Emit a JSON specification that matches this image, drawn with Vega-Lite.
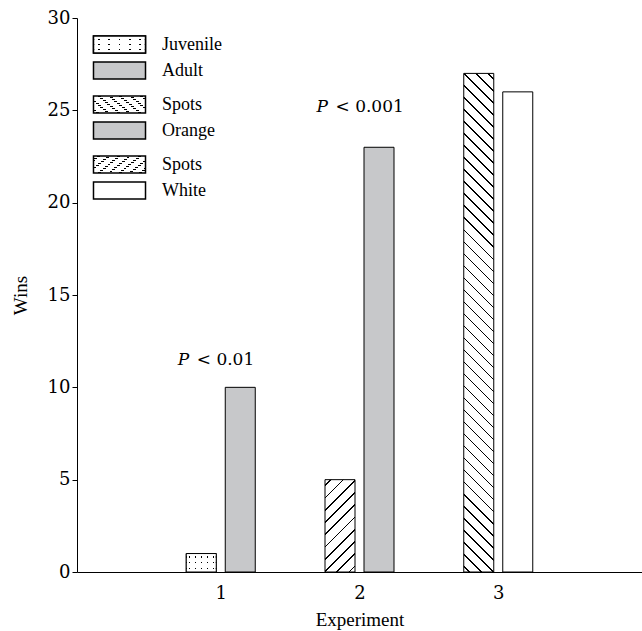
{
  "$schema": "https://vega.github.io/schema/vega-lite/v6.json",
  "width": 565,
  "height": 554,
  "autosize": {"type": "none"},
  "padding": {"left": 77, "top": 18, "right": 0, "bottom": 59},
  "background": "white",
  "config": {
    "view": {"stroke": null},
    "font": "Liberation Serif",
    "axis": {"labelFont": "DejaVu Serif", "labelFontSize": 18, "labelColor": "black", "titleFont": "Liberation Serif", "titleFontSize": 19, "titleFontWeight": "normal", "titleColor": "black", "domainColor": "black", "domainWidth": 1, "tickColor": "black", "grid": false},
    "legend": {"orient": "none", "direction": "vertical", "symbolType": "M-3.06,-1H3.06V1H-3.06Z", "symbolSize": 289, "labelFont": "Liberation Serif", "labelFontSize": 18, "labelColor": "black", "labelOffset": 33, "rowPadding": 4, "padding": 0}
  },
  "data": {"values": [
    {"experiment": 1, "group": "Juvenile", "wins": 1},
    {"experiment": 1, "group": "Adult", "wins": 10},
    {"experiment": 2, "group": "Spots", "wins": 5},
    {"experiment": 2, "group": "Orange", "wins": 23},
    {"experiment": 3, "group": "Spots", "wins": 27},
    {"experiment": 3, "group": "White", "wins": 26}
  ]},
  "encoding": {
    "x": {"field": "experiment", "type": "quantitative", "scale": {"domain": [0, 4], "nice": false, "zero": false}, "axis": {"values": [1, 2, 3], "format": "d", "ticks": false, "tickSize": 0, "labelPadding": 12, "title": "Experiment", "titlePadding": 8}},
    "y": {"field": "wins", "type": "quantitative", "scale": {"domain": [0, 30], "nice": false}, "axis": {"values": [0, 5, 10, 15, 20, 25, 30], "tickSize": 5, "labelPadding": 2, "title": "Wins", "titlePadding": 17}}
  },
  "resolve": {"scale": {"opacity": "independent"}, "legend": {"opacity": "independent"}},
  "layer": [
    {
      "transform": [{"filter": "datum.experiment == 1 && datum.group == 'Juvenile'"}],
      "mark": {"type": "bar", "orient": "vertical", "width": 30, "xOffset": -19.5, "stroke": "black", "strokeWidth": 1,
        "fill": {"gradient": "linear", "x1": 0, "y1": 0, "x2": 1, "y2": 0, "stops": [
          {"offset": 0, "color": "#fff"},
          {"offset": 0.083, "color": "#fff"}, {"offset": 0.083, "color": "#000"}, {"offset": 0.117, "color": "#000"}, {"offset": 0.117, "color": "#fff"},
          {"offset": 0.283, "color": "#fff"}, {"offset": 0.283, "color": "#000"}, {"offset": 0.317, "color": "#000"}, {"offset": 0.317, "color": "#fff"},
          {"offset": 0.483, "color": "#fff"}, {"offset": 0.483, "color": "#000"}, {"offset": 0.517, "color": "#000"}, {"offset": 0.517, "color": "#fff"},
          {"offset": 0.683, "color": "#fff"}, {"offset": 0.683, "color": "#000"}, {"offset": 0.717, "color": "#000"}, {"offset": 0.717, "color": "#fff"},
          {"offset": 0.883, "color": "#fff"}, {"offset": 0.883, "color": "#000"}, {"offset": 0.917, "color": "#000"}, {"offset": 0.917, "color": "#fff"},
          {"offset": 1, "color": "#fff"}
        ]}
      },
      "encoding": {
        "opacity": {"field": "group", "type": "nominal",
          "scale": {"domain": ["Juvenile"], "range": [1]},
          "legend": {"title": null, "legendX": 33, "legendY": 17,
            "encode": {"symbols": {
              "fill": {"value": {"gradient": "linear", "x1": 0, "y1": 0, "x2": 1, "y2": 0, "stops": [
                {"offset": 0, "color": "#fff"},
                {"offset": 0.083, "color": "#fff"}, {"offset": 0.083, "color": "#000"}, {"offset": 0.107, "color": "#000"}, {"offset": 0.107, "color": "#fff"},
                {"offset": 0.283, "color": "#fff"}, {"offset": 0.283, "color": "#000"}, {"offset": 0.307, "color": "#000"}, {"offset": 0.307, "color": "#fff"},
                {"offset": 0.483, "color": "#fff"}, {"offset": 0.483, "color": "#000"}, {"offset": 0.507, "color": "#000"}, {"offset": 0.507, "color": "#fff"},
                {"offset": 0.683, "color": "#fff"}, {"offset": 0.683, "color": "#000"}, {"offset": 0.707, "color": "#000"}, {"offset": 0.707, "color": "#fff"},
                {"offset": 0.883, "color": "#fff"}, {"offset": 0.883, "color": "#000"}, {"offset": 0.907, "color": "#000"}, {"offset": 0.907, "color": "#fff"},
                {"offset": 1, "color": "#fff"}
              ]}},
              "stroke": {"value": "black"},
              "strokeWidth": {"value": 1}
            }}
          }
        }
      }
    },
    {
      "transform": [{"filter": "datum.experiment == 1 && datum.group == 'Adult'"}],
      "mark": {"type": "bar", "orient": "vertical", "width": 30, "xOffset": 19.5, "stroke": "black", "strokeWidth": 1, "fill": "#c7c8ca"},
      "encoding": {
        "opacity": {"field": "group", "type": "nominal",
          "scale": {"domain": ["Adult"], "range": [1]},
          "legend": {"title": null, "legendX": 33, "legendY": 43,
            "encode": {"symbols": {"fill": {"value": "#c7c8ca"}, "stroke": {"value": "black"}, "strokeWidth": {"value": 1}}}
          }
        }
      }
    },
    {
      "transform": [{"filter": "datum.experiment == 2 && datum.group == 'Spots'"}],
      "mark": {"type": "bar", "orient": "vertical", "width": 30, "xOffset": -19.5, "stroke": "black", "strokeWidth": 1,
        "fill": {"gradient": "linear", "x1": 0, "y1": 0, "x2": 0.3894, "y2": 1.1984, "stops": [
          {"offset": 0, "color": "#fff"},
          {"offset": 0.043, "color": "#fff"}, {"offset": 0.043, "color": "#000"}, {"offset": 0.057, "color": "#000"}, {"offset": 0.057, "color": "#fff"},
          {"offset": 0.143, "color": "#fff"}, {"offset": 0.143, "color": "#000"}, {"offset": 0.157, "color": "#000"}, {"offset": 0.157, "color": "#fff"},
          {"offset": 0.243, "color": "#fff"}, {"offset": 0.243, "color": "#000"}, {"offset": 0.257, "color": "#000"}, {"offset": 0.257, "color": "#fff"},
          {"offset": 0.343, "color": "#fff"}, {"offset": 0.343, "color": "#000"}, {"offset": 0.357, "color": "#000"}, {"offset": 0.357, "color": "#fff"},
          {"offset": 0.443, "color": "#fff"}, {"offset": 0.443, "color": "#000"}, {"offset": 0.457, "color": "#000"}, {"offset": 0.457, "color": "#fff"},
          {"offset": 0.543, "color": "#fff"}, {"offset": 0.543, "color": "#000"}, {"offset": 0.557, "color": "#000"}, {"offset": 0.557, "color": "#fff"},
          {"offset": 0.643, "color": "#fff"}, {"offset": 0.643, "color": "#000"}, {"offset": 0.657, "color": "#000"}, {"offset": 0.657, "color": "#fff"},
          {"offset": 0.743, "color": "#fff"}, {"offset": 0.743, "color": "#000"}, {"offset": 0.757, "color": "#000"}, {"offset": 0.757, "color": "#fff"},
          {"offset": 0.843, "color": "#fff"}, {"offset": 0.843, "color": "#000"}, {"offset": 0.857, "color": "#000"}, {"offset": 0.857, "color": "#fff"},
          {"offset": 0.943, "color": "#fff"}, {"offset": 0.943, "color": "#000"}, {"offset": 0.957, "color": "#000"}, {"offset": 0.957, "color": "#fff"},
          {"offset": 1, "color": "#fff"}
        ]}
      },
      "encoding": {
        "opacity": {"field": "group", "type": "nominal",
          "scale": {"domain": ["Spots"], "range": [1]},
          "legend": {"title": null, "legendX": 33, "legendY": 77,
            "encode": {"symbols": {
              "fill": {"value": {"gradient": "linear", "x1": 0, "y1": 1, "x2": 1.1988, "y2": 0.6081, "stops": [
                {"offset": 0, "color": "#fff"},
                {"offset": 0.071, "color": "#fff"}, {"offset": 0.071, "color": "#000"}, {"offset": 0.0956, "color": "#000"}, {"offset": 0.0956, "color": "#fff"},
                {"offset": 0.2377, "color": "#fff"}, {"offset": 0.2377, "color": "#000"}, {"offset": 0.2623, "color": "#000"}, {"offset": 0.2623, "color": "#fff"},
                {"offset": 0.4044, "color": "#fff"}, {"offset": 0.4044, "color": "#000"}, {"offset": 0.429, "color": "#000"}, {"offset": 0.429, "color": "#fff"},
                {"offset": 0.571, "color": "#fff"}, {"offset": 0.571, "color": "#000"}, {"offset": 0.5956, "color": "#000"}, {"offset": 0.5956, "color": "#fff"},
                {"offset": 0.7377, "color": "#fff"}, {"offset": 0.7377, "color": "#000"}, {"offset": 0.7623, "color": "#000"}, {"offset": 0.7623, "color": "#fff"},
                {"offset": 0.9044, "color": "#fff"}, {"offset": 0.9044, "color": "#000"}, {"offset": 0.929, "color": "#000"}, {"offset": 0.929, "color": "#fff"},
                {"offset": 1, "color": "#fff"}
              ]}},
              "stroke": {"value": "black"},
              "strokeWidth": {"value": 1}
            }}
          }
        }
      }
    },
    {
      "transform": [{"filter": "datum.experiment == 2 && datum.group == 'Orange'"}],
      "mark": {"type": "bar", "orient": "vertical", "width": 30, "xOffset": 19.5, "stroke": "black", "strokeWidth": 1, "fill": "#c7c8ca"},
      "encoding": {
        "opacity": {"field": "group", "type": "nominal",
          "scale": {"domain": ["Orange"], "range": [1]},
          "legend": {"title": null, "legendX": 33, "legendY": 103,
            "encode": {"symbols": {"fill": {"value": "#c7c8ca"}, "stroke": {"value": "black"}, "strokeWidth": {"value": 1}}}
          }
        }
      }
    },
    {
      "transform": [{"filter": "datum.experiment == 3 && datum.group == 'Spots'"}],
      "mark": {"type": "bar", "orient": "vertical", "width": 30, "xOffset": -19.5, "stroke": "black", "strokeWidth": 1,
        "fill": {"gradient": "linear", "x1": 0, "y1": 1, "x2": 0.06356, "y2": -0.0563, "stops": [
          {"offset": 0, "color": "#fff"},
          {"offset": 0.0098, "color": "#fff"}, {"offset": 0.0098, "color": "#000"}, {"offset": 0.0130, "color": "#000"}, {"offset": 0.0130, "color": "#fff"},
          {"offset": 0.0325, "color": "#fff"}, {"offset": 0.0325, "color": "#000"}, {"offset": 0.0357, "color": "#000"}, {"offset": 0.0357, "color": "#fff"},
          {"offset": 0.0552, "color": "#fff"}, {"offset": 0.0552, "color": "#000"}, {"offset": 0.0584, "color": "#000"}, {"offset": 0.0584, "color": "#fff"},
          {"offset": 0.0779, "color": "#fff"}, {"offset": 0.0779, "color": "#000"}, {"offset": 0.0811, "color": "#000"}, {"offset": 0.0811, "color": "#fff"},
          {"offset": 0.1007, "color": "#fff"}, {"offset": 0.1007, "color": "#000"}, {"offset": 0.1039, "color": "#000"}, {"offset": 0.1039, "color": "#fff"},
          {"offset": 0.1234, "color": "#fff"}, {"offset": 0.1234, "color": "#000"}, {"offset": 0.1266, "color": "#000"}, {"offset": 0.1266, "color": "#fff"},
          {"offset": 0.1461, "color": "#fff"}, {"offset": 0.1461, "color": "#000"}, {"offset": 0.1493, "color": "#000"}, {"offset": 0.1493, "color": "#fff"},
          {"offset": 0.1689, "color": "#fff"}, {"offset": 0.1689, "color": "#000"}, {"offset": 0.1721, "color": "#000"}, {"offset": 0.1721, "color": "#fff"},
          {"offset": 0.1916, "color": "#fff"}, {"offset": 0.1916, "color": "#000"}, {"offset": 0.1948, "color": "#000"}, {"offset": 0.1948, "color": "#fff"},
          {"offset": 0.2143, "color": "#fff"}, {"offset": 0.2143, "color": "#000"}, {"offset": 0.2175, "color": "#000"}, {"offset": 0.2175, "color": "#fff"},
          {"offset": 0.2370, "color": "#fff"}, {"offset": 0.2370, "color": "#000"}, {"offset": 0.2402, "color": "#000"}, {"offset": 0.2402, "color": "#fff"},
          {"offset": 0.2598, "color": "#fff"}, {"offset": 0.2598, "color": "#000"}, {"offset": 0.2630, "color": "#000"}, {"offset": 0.2630, "color": "#fff"},
          {"offset": 0.2825, "color": "#fff"}, {"offset": 0.2825, "color": "#000"}, {"offset": 0.2857, "color": "#000"}, {"offset": 0.2857, "color": "#fff"},
          {"offset": 0.3052, "color": "#fff"}, {"offset": 0.3052, "color": "#000"}, {"offset": 0.3084, "color": "#000"}, {"offset": 0.3084, "color": "#fff"},
          {"offset": 0.3279, "color": "#fff"}, {"offset": 0.3279, "color": "#000"}, {"offset": 0.3311, "color": "#000"}, {"offset": 0.3311, "color": "#fff"},
          {"offset": 0.3507, "color": "#fff"}, {"offset": 0.3507, "color": "#000"}, {"offset": 0.3539, "color": "#000"}, {"offset": 0.3539, "color": "#fff"},
          {"offset": 0.3734, "color": "#fff"}, {"offset": 0.3734, "color": "#000"}, {"offset": 0.3766, "color": "#000"}, {"offset": 0.3766, "color": "#fff"},
          {"offset": 0.3961, "color": "#fff"}, {"offset": 0.3961, "color": "#000"}, {"offset": 0.3993, "color": "#000"}, {"offset": 0.3993, "color": "#fff"},
          {"offset": 0.4189, "color": "#fff"}, {"offset": 0.4189, "color": "#000"}, {"offset": 0.4221, "color": "#000"}, {"offset": 0.4221, "color": "#fff"},
          {"offset": 0.4416, "color": "#fff"}, {"offset": 0.4416, "color": "#000"}, {"offset": 0.4448, "color": "#000"}, {"offset": 0.4448, "color": "#fff"},
          {"offset": 0.4643, "color": "#fff"}, {"offset": 0.4643, "color": "#000"}, {"offset": 0.4675, "color": "#000"}, {"offset": 0.4675, "color": "#fff"},
          {"offset": 0.4870, "color": "#fff"}, {"offset": 0.4870, "color": "#000"}, {"offset": 0.4902, "color": "#000"}, {"offset": 0.4902, "color": "#fff"},
          {"offset": 0.5098, "color": "#fff"}, {"offset": 0.5098, "color": "#000"}, {"offset": 0.5130, "color": "#000"}, {"offset": 0.5130, "color": "#fff"},
          {"offset": 0.5325, "color": "#fff"}, {"offset": 0.5325, "color": "#000"}, {"offset": 0.5357, "color": "#000"}, {"offset": 0.5357, "color": "#fff"},
          {"offset": 0.5552, "color": "#fff"}, {"offset": 0.5552, "color": "#000"}, {"offset": 0.5584, "color": "#000"}, {"offset": 0.5584, "color": "#fff"},
          {"offset": 0.5779, "color": "#fff"}, {"offset": 0.5779, "color": "#000"}, {"offset": 0.5811, "color": "#000"}, {"offset": 0.5811, "color": "#fff"},
          {"offset": 0.6007, "color": "#fff"}, {"offset": 0.6007, "color": "#000"}, {"offset": 0.6039, "color": "#000"}, {"offset": 0.6039, "color": "#fff"},
          {"offset": 0.6234, "color": "#fff"}, {"offset": 0.6234, "color": "#000"}, {"offset": 0.6266, "color": "#000"}, {"offset": 0.6266, "color": "#fff"},
          {"offset": 0.6461, "color": "#fff"}, {"offset": 0.6461, "color": "#000"}, {"offset": 0.6493, "color": "#000"}, {"offset": 0.6493, "color": "#fff"},
          {"offset": 0.6689, "color": "#fff"}, {"offset": 0.6689, "color": "#000"}, {"offset": 0.6721, "color": "#000"}, {"offset": 0.6721, "color": "#fff"},
          {"offset": 0.6916, "color": "#fff"}, {"offset": 0.6916, "color": "#000"}, {"offset": 0.6948, "color": "#000"}, {"offset": 0.6948, "color": "#fff"},
          {"offset": 0.7143, "color": "#fff"}, {"offset": 0.7143, "color": "#000"}, {"offset": 0.7175, "color": "#000"}, {"offset": 0.7175, "color": "#fff"},
          {"offset": 0.7370, "color": "#fff"}, {"offset": 0.7370, "color": "#000"}, {"offset": 0.7402, "color": "#000"}, {"offset": 0.7402, "color": "#fff"},
          {"offset": 0.7598, "color": "#fff"}, {"offset": 0.7598, "color": "#000"}, {"offset": 0.7630, "color": "#000"}, {"offset": 0.7630, "color": "#fff"},
          {"offset": 0.7825, "color": "#fff"}, {"offset": 0.7825, "color": "#000"}, {"offset": 0.7857, "color": "#000"}, {"offset": 0.7857, "color": "#fff"},
          {"offset": 0.8052, "color": "#fff"}, {"offset": 0.8052, "color": "#000"}, {"offset": 0.8084, "color": "#000"}, {"offset": 0.8084, "color": "#fff"},
          {"offset": 0.8279, "color": "#fff"}, {"offset": 0.8279, "color": "#000"}, {"offset": 0.8311, "color": "#000"}, {"offset": 0.8311, "color": "#fff"},
          {"offset": 0.8507, "color": "#fff"}, {"offset": 0.8507, "color": "#000"}, {"offset": 0.8539, "color": "#000"}, {"offset": 0.8539, "color": "#fff"},
          {"offset": 0.8734, "color": "#fff"}, {"offset": 0.8734, "color": "#000"}, {"offset": 0.8766, "color": "#000"}, {"offset": 0.8766, "color": "#fff"},
          {"offset": 0.8961, "color": "#fff"}, {"offset": 0.8961, "color": "#000"}, {"offset": 0.8993, "color": "#000"}, {"offset": 0.8993, "color": "#fff"},
          {"offset": 0.9189, "color": "#fff"}, {"offset": 0.9189, "color": "#000"}, {"offset": 0.9221, "color": "#000"}, {"offset": 0.9221, "color": "#fff"},
          {"offset": 0.9416, "color": "#fff"}, {"offset": 0.9416, "color": "#000"}, {"offset": 0.9448, "color": "#000"}, {"offset": 0.9448, "color": "#fff"},
          {"offset": 0.9643, "color": "#fff"}, {"offset": 0.9643, "color": "#000"}, {"offset": 0.9675, "color": "#000"}, {"offset": 0.9675, "color": "#fff"},
          {"offset": 0.9870, "color": "#fff"}, {"offset": 0.9870, "color": "#000"}, {"offset": 0.9902, "color": "#000"}, {"offset": 0.9902, "color": "#fff"},
          {"offset": 1, "color": "#fff"}
        ]}
      },
      "encoding": {
        "opacity": {"field": "group", "type": "nominal",
          "scale": {"domain": ["Spots"], "range": [1]},
          "legend": {"title": null, "legendX": 33, "legendY": 137,
            "encode": {"symbols": {
              "fill": {"value": {"gradient": "linear", "x1": 0, "y1": 0, "x2": 1.1988, "y2": 0.3919, "stops": [
                {"offset": 0, "color": "#fff"},
                {"offset": 0.071, "color": "#fff"}, {"offset": 0.071, "color": "#000"}, {"offset": 0.0956, "color": "#000"}, {"offset": 0.0956, "color": "#fff"},
                {"offset": 0.2377, "color": "#fff"}, {"offset": 0.2377, "color": "#000"}, {"offset": 0.2623, "color": "#000"}, {"offset": 0.2623, "color": "#fff"},
                {"offset": 0.4044, "color": "#fff"}, {"offset": 0.4044, "color": "#000"}, {"offset": 0.429, "color": "#000"}, {"offset": 0.429, "color": "#fff"},
                {"offset": 0.571, "color": "#fff"}, {"offset": 0.571, "color": "#000"}, {"offset": 0.5956, "color": "#000"}, {"offset": 0.5956, "color": "#fff"},
                {"offset": 0.7377, "color": "#fff"}, {"offset": 0.7377, "color": "#000"}, {"offset": 0.7623, "color": "#000"}, {"offset": 0.7623, "color": "#fff"},
                {"offset": 0.9044, "color": "#fff"}, {"offset": 0.9044, "color": "#000"}, {"offset": 0.929, "color": "#000"}, {"offset": 0.929, "color": "#fff"},
                {"offset": 1, "color": "#fff"}
              ]}},
              "stroke": {"value": "black"},
              "strokeWidth": {"value": 1}
            }}
          }
        }
      }
    },
    {
      "transform": [{"filter": "datum.experiment == 3 && datum.group == 'White'"}],
      "mark": {"type": "bar", "orient": "vertical", "width": 30, "xOffset": 19.5, "stroke": "black", "strokeWidth": 1, "fill": "#ffffff"},
      "encoding": {
        "opacity": {"field": "group", "type": "nominal",
          "scale": {"domain": ["White"], "range": [1]},
          "legend": {"title": null, "legendX": 33, "legendY": 163,
            "encode": {"symbols": {"fill": {"value": "#ffffff"}, "stroke": {"value": "black"}, "strokeWidth": {"value": 1}}}
          }
        }
      }
    },
    {
      "transform": [{"filter": "datum.experiment == 1 && datum.group == 'Juvenile'"}],
      "mark": {"type": "bar", "orient": "vertical", "width": 30, "xOffset": -19.5, "stroke": "black", "strokeWidth": 1,
        "fill": {"gradient": "linear", "x1": 0, "y1": 0, "x2": 0, "y2": 1, "stops": [
          {"offset": 0, "color": "#fff"},
          {"offset": 0.16, "color": "#fff"}, {"offset": 0.16, "color": "rgba(255,255,255,0)"}, {"offset": 0.22, "color": "rgba(255,255,255,0)"}, {"offset": 0.22, "color": "#fff"},
          {"offset": 0.47, "color": "#fff"}, {"offset": 0.47, "color": "rgba(255,255,255,0)"}, {"offset": 0.53, "color": "rgba(255,255,255,0)"}, {"offset": 0.53, "color": "#fff"},
          {"offset": 0.78, "color": "#fff"}, {"offset": 0.78, "color": "rgba(255,255,255,0)"}, {"offset": 0.84, "color": "rgba(255,255,255,0)"}, {"offset": 0.84, "color": "#fff"},
          {"offset": 1, "color": "#fff"}
        ]}
      },
      "encoding": {
        "opacity": {"field": "group", "type": "nominal",
          "scale": {"domain": ["Juvenile"], "range": [1]},
          "legend": {"title": null, "legendX": 33, "legendY": 17, "labelOpacity": 0,
            "encode": {"symbols": {
              "fill": {"value": {"gradient": "linear", "x1": 0, "y1": 0, "x2": 0, "y2": 1, "stops": [
                {"offset": 0, "color": "#fff"},
                {"offset": 0.16, "color": "#fff"}, {"offset": 0.16, "color": "rgba(255,255,255,0)"}, {"offset": 0.22, "color": "rgba(255,255,255,0)"}, {"offset": 0.22, "color": "#fff"},
                {"offset": 0.47, "color": "#fff"}, {"offset": 0.47, "color": "rgba(255,255,255,0)"}, {"offset": 0.53, "color": "rgba(255,255,255,0)"}, {"offset": 0.53, "color": "#fff"},
                {"offset": 0.78, "color": "#fff"}, {"offset": 0.78, "color": "rgba(255,255,255,0)"}, {"offset": 0.84, "color": "rgba(255,255,255,0)"}, {"offset": 0.84, "color": "#fff"},
                {"offset": 1, "color": "#fff"}
              ]}},
              "stroke": {"value": "black"},
              "strokeWidth": {"value": 1}
            }}
          }
        }
      }
    },
    {
      "data": {"values": [{}]},
      "mark": {"type": "rule", "color": "black", "strokeWidth": 1},
      "encoding": {"y": {"datum": 30}, "x": {"datum": 0}, "x2": {"datum": 4}}
    },
    {
      "data": {"values": [
        {"experiment": 1, "wins": 11.2, "p": "< 0.01"},
        {"experiment": 2, "wins": 24.9, "p": "< 0.001"}
      ]},
      "mark": {"type": "text", "text": "P", "fontStyle": "italic", "font": "DejaVu Serif", "fontSize": 17, "align": "left", "baseline": "alphabetic", "dx": -43, "color": "black"}
    },
    {
      "data": {"values": [
        {"experiment": 1, "wins": 11.2, "p": "< 0.01"},
        {"experiment": 2, "wins": 24.9, "p": "< 0.001"}
      ]},
      "mark": {"type": "text", "font": "DejaVu Serif", "fontSize": 17, "align": "left", "baseline": "alphabetic", "dx": -24, "color": "black"},
      "encoding": {"text": {"field": "p", "type": "nominal"}}
    }
  ]
}
